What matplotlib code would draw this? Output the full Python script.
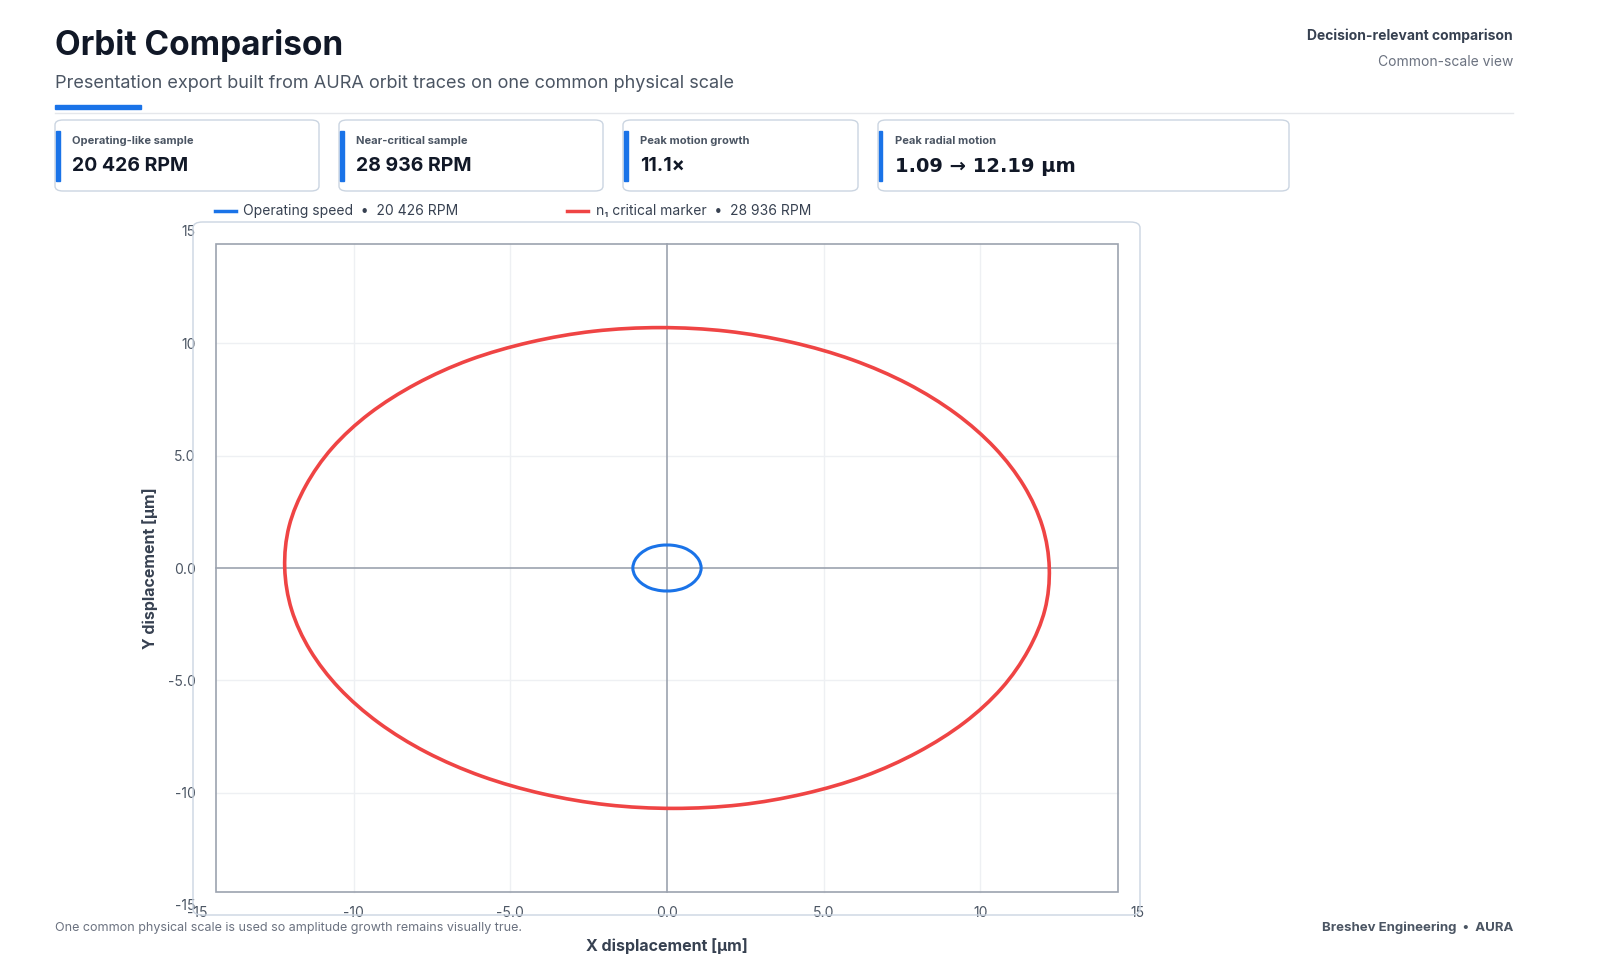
import matplotlib
matplotlib.use("Agg")
import matplotlib.pyplot as plt
from matplotlib.patches import FancyBboxPatch, Rectangle, PathPatch
from matplotlib.path import Path

plt.rcParams["font.family"] = ["Inter", "DejaVu Sans"]

# orbit traces (µm)
op_x = [1.09, 1.02, 0.83, 0.55, 0.19, -0.19, -0.55, -0.83, -1.02, -1.09,
        -1.02, -0.83, -0.55, -0.19, 0.19, 0.55, 0.83, 1.02, 1.09]
op_y = [0.00, 0.35, 0.66, 0.89, 1.01, 1.01, 0.89, 0.66, 0.35, 0.00,
        -0.35, -0.66, -0.89, -1.01, -1.01, -0.89, -0.66, -0.35, 0.00]

crit_x = [12.20, 11.98, 11.39, 10.46, 9.21, 7.68, 5.91, 3.97, 1.91, -0.21,
          -2.33, -4.37, -6.29, -8.00, -9.49, -10.68, -11.53, -12.06, -12.20,
          -11.98, -11.39, -10.46, -9.21, -7.68, -5.91, -3.97, -1.91, 0.21,
          2.33, 4.37, 6.29, 8.00, 9.49, 10.68, 11.53, 12.06, 12.20]
crit_y = [0.00, 1.86, 3.66, 5.35, 6.88, 8.20, 9.27, 10.05, 10.54, 10.70,
          10.54, 10.05, 9.27, 8.20, 6.88, 5.35, 3.66, 1.86, 0.00,
          -1.86, -3.66, -5.35, -6.88, -8.20, -9.27, -10.05, -10.54, -10.70,
          -10.54, -10.05, -9.27, -8.20, -6.88, -5.35, -3.66, -1.86, 0.00]

tick_vals = [-15, -10, -5, 0, 5, 10, 15]
tick_labels = ["-15", "-10", "-5.0", "0.0", "5.0", "10", "15"]
grid_vals = [-10, -5, 5, 10]
box_lim = 14.4

card_labels = ["Operating-like sample", "Near-critical sample", "Peak motion growth", "Peak radial motion"]
card_values = ["20 426 RPM", "28 936 RPM", "11.1×", "1.09 → 12.19 µm"]
card_x = [55, 339, 623, 878]
card_w = [264, 264, 235, 411]

BLUE = "#1a73e8"
RED = "#ef4444"
DARK = "#111827"
GRAY = "#4b5563"
W, H = 1600, 980

fig = plt.figure(figsize=(16, 9.8), dpi=100)


def fx(px):
    return px / W


def fy(py):
    return 1 - py / H


def smooth_closed(xs, ys):
    # closed Catmull-Rom curve through the trace points, drawn as Bezier segments
    pts = list(zip(xs[:-1], ys[:-1]))
    n = len(pts)
    verts = [pts[0]]
    codes = [Path.MOVETO]
    for i in range(n):
        p0, p1, p2, p3 = pts[i - 1], pts[i], pts[(i + 1) % n], pts[(i + 2) % n]
        c1 = (p1[0] + (p2[0] - p0[0]) / 6, p1[1] + (p2[1] - p0[1]) / 6)
        c2 = (p2[0] - (p3[0] - p1[0]) / 6, p2[1] - (p3[1] - p1[1]) / 6)
        verts += [c1, c2, p2]
        codes += [Path.CURVE4] * 3
    return Path(verts, codes)


# header
fig.text(fx(55), fy(45), "Orbit Comparison", fontsize=24, fontweight="bold", color=DARK, va="center")
fig.text(fx(55), fy(84), "Presentation export built from AURA orbit traces on one common physical scale",
         fontsize=13, color=GRAY, va="center")
fig.add_artist(Rectangle((fx(55), fy(109)), fx(86), 3.5 / H, color=BLUE, transform=fig.transFigure))
fig.add_artist(plt.Line2D([fx(55), fx(1513)], [fy(113), fy(113)], color="#e5e7eb", lw=1, transform=fig.transFigure))
fig.text(fx(1513), fy(36), "Decision-relevant comparison", fontsize=10, fontweight="bold", color="#374151",
         ha="right", va="center")
fig.text(fx(1513), fy(62), "Common-scale view", fontsize=10, color="#6b7280", ha="right", va="center")

# stat cards
for lab, val, x0, w in zip(card_labels, card_values, card_x, card_w):
    fig.add_artist(FancyBboxPatch((fx(x0), fy(191)), fx(w), 71 / H, boxstyle="round,pad=0,rounding_size=0.005",
                                  transform=fig.transFigure, fc="white", ec="#cbd5e1", lw=1))
    fig.add_artist(Rectangle((fx(x0 + 1), fy(181)), fx(3.5), 50 / H, color=BLUE, transform=fig.transFigure))
    fig.text(fx(x0 + 17), fy(141), lab, fontsize=8, fontweight="bold", color=GRAY, va="center")
    fig.text(fx(x0 + 17), fy(166), val, fontsize=14, fontweight="bold", color=DARK, va="center",
             family=["DejaVu Sans"] if "→" in val else None)

# legend
fig.add_artist(plt.Line2D([fx(215), fx(236)], [fy(211), fy(211)], color=BLUE, lw=2.5, transform=fig.transFigure))
fig.text(fx(243), fy(211), "Operating speed  •  20 426 RPM", fontsize=10, color="#374151", va="center")
fig.add_artist(plt.Line2D([fx(567), fx(588)], [fy(211), fy(211)], color=RED, lw=2.5, transform=fig.transFigure))
fig.text(fx(596), fy(211), "n₁ critical marker  •  28 936 RPM", fontsize=10, color="#374151", va="center")

# plot frame
fig.add_artist(FancyBboxPatch((fx(193), fy(915)), fx(947), 693 / H, boxstyle="round,pad=0,rounding_size=0.006",
                              transform=fig.transFigure, fc="none", ec="#cbd5e1", lw=1))

ax = fig.add_axes([fx(197), fy(905), fx(940), 674 / H])
ax.set_xlim(-15, 15)
ax.set_ylim(-15, 15)
for s in ax.spines.values():
    s.set_visible(False)
ax.patch.set_alpha(0)

for g in grid_vals:
    ax.plot([g, g], [-box_lim, box_lim], color="#eef0f3", lw=1, zorder=1)
    ax.plot([-box_lim, box_lim], [g, g], color="#eef0f3", lw=1, zorder=1)
ax.plot([0, 0], [-box_lim, box_lim], color="#9ca3af", lw=1.2, zorder=2)
ax.plot([-box_lim, box_lim], [0, 0], color="#9ca3af", lw=1.2, zorder=2)
ax.add_patch(Rectangle((-box_lim, -box_lim), 2 * box_lim, 2 * box_lim, fc="none", ec="#9ca3af", lw=1.2, zorder=2))

ax.add_patch(PathPatch(smooth_closed(crit_x, crit_y), fc="none", ec=RED, lw=2.6, zorder=3))
ax.add_patch(PathPatch(smooth_closed(op_x, op_y), fc="none", ec=BLUE, lw=2.2, zorder=4))

ax.set_xticks(tick_vals)
ax.set_xticklabels(tick_labels)
ax.set_yticks(tick_vals)
ax.set_yticklabels(tick_labels)
ax.tick_params(length=0, labelsize=10, labelcolor=GRAY, pad=1)

fig.text(fx(667), fy(946), "X displacement [µm]", fontsize=11.5, fontweight="bold", color="#374151",
         ha="center", va="center")
fig.text(fx(150), fy(568), "Y displacement [µm]", fontsize=11.5, fontweight="bold", color="#374151",
         ha="center", va="center", rotation=90)

# footer
fig.text(fx(55), fy(928), "One common physical scale is used so amplitude growth remains visually true.",
         fontsize=9, color="#6b7280", va="center")
fig.text(fx(1513), fy(928), "Breshev Engineering  •  AURA", fontsize=9.5, fontweight="bold", color=GRAY,
         ha="right", va="center")

fig.savefig("out.png", dpi=100, facecolor="white")
